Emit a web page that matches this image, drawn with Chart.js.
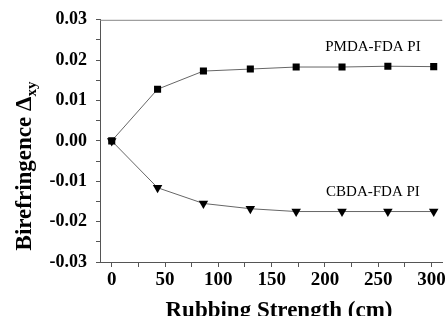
<!DOCTYPE html>
<html>
<head>
<meta charset="utf-8">
<script src="https://cdn.jsdelivr.net/npm/chart.js@4"></script>
<style>
  html, body { margin: 0; padding: 0; background: #fff; }
  #wrap { width: 448px; height: 316px; }
</style>
</head>
<body>
<div id="wrap"><canvas id="myChart" width="448" height="316"></canvas></div>
<script>
var rubbing = [0, 43, 86, 130, 173, 216, 259, 302];
var pmda = [0, 0.0128, 0.0173, 0.0178, 0.0183, 0.0183, 0.0185, 0.0184];
var cbda = [0, -0.0116, -0.0155, -0.0168, -0.0175, -0.0175, -0.0175, -0.0175];
var xTicks = [0, 25, 50, 75, 100, 125, 150, 175, 200, 225, 250, 275, 300];
var yTicks = [-0.03, -0.025, -0.02, -0.015, -0.01, -0.005, 0, 0.005, 0.01, 0.015, 0.02, 0.025, 0.03];
var seriesNames = ["PMDA-FDA PI", "CBDA-FDA PI"];

function pts(ys) {
  return rubbing.map(function (x, i) { return { x: x, y: ys[i] }; });
}

var serif = "'Liberation Serif', 'Times New Roman', serif";

var textPlugin = {
  id: 'textPlugin',
  afterDraw: function (chart) {
    var ctx = chart.ctx;
    var a = chart.chartArea;
    var xs = chart.scales.x, ys = chart.scales.y;
    ctx.save();
    // top frame line
    ctx.strokeStyle = '#888';
    ctx.lineWidth = 1;
    ctx.beginPath();
    ctx.moveTo(a.left, a.top + 0.5);
    ctx.lineTo(a.right, a.top + 0.5);
    ctx.stroke();

    // series labels
    ctx.fillStyle = '#000';
    ctx.font = '15px ' + serif;
    ctx.textAlign = 'center';
    ctx.textBaseline = 'alphabetic';
    ctx.fillText(seriesNames[0], xs.getPixelForValue(245), ys.getPixelForValue(0.0222));
    ctx.fillText(seriesNames[1], xs.getPixelForValue(245), ys.getPixelForValue(-0.0137));

    // x title
    ctx.font = 'bold 23px ' + serif;
    ctx.fillText('Rubbing Strength (cm)', 279, 317);

    // y title with subscript
    ctx.translate(31, 166);
    ctx.rotate(-Math.PI / 2);
    ctx.textAlign = 'left';
    var main = 'Birefringence \u0394';
    ctx.font = 'bold 23px ' + serif;
    var w1 = ctx.measureText(main).width;
    ctx.font = 'bold 15px ' + serif;
    var w2 = ctx.measureText('xy').width;
    var start = -(w1 + w2) / 2;
    ctx.font = 'bold 23px ' + serif;
    ctx.fillText(main, start, 0);
    ctx.font = 'bold 15px ' + serif;
    ctx.fillText('xy', start + w1, 5);
    ctx.restore();
  }
};

var chart = new Chart(document.getElementById('myChart').getContext('2d'), {
  type: 'scatter',
  data: {
    datasets: [{
      label: seriesNames[0],
      data: pts(pmda),
      showLine: true,
      borderColor: '#666',
      borderWidth: 1,
      pointStyle: 'rect',
      pointRadius: 5,
      pointBackgroundColor: '#000',
      pointBorderColor: '#000',
      pointBorderWidth: 0
    }, {
      label: seriesNames[1],
      data: pts(cbda),
      showLine: true,
      borderColor: '#666',
      borderWidth: 1,
      pointStyle: 'triangle',
      pointRotation: 180,
      pointRadius: 5.5,
      pointBackgroundColor: '#000',
      pointBorderColor: '#000',
      pointBorderWidth: 0
    }]
  },
  options: {
    responsive: false,
    animation: false,
    layout: { padding: { top: 19, right: 0, left: 0, bottom: 0 } },
    plugins: {
      legend: { display: false },
      tooltip: { enabled: false },
      title: { display: false }
    },
    scales: {
      x: {
        type: 'linear',
        min: -11,
        max: 310,
        afterBuildTicks: function (scale) {
          scale.ticks = xTicks.map(function (v) { return { value: v }; });
        },
        afterFit: function (scale) { scale.height = 54; },
        grid: { drawOnChartArea: false, drawTicks: true, tickLength: 5, color: '#555' },
        border: { display: true, color: '#555', width: 1 },
        ticks: {
          autoSkip: false,
          maxRotation: 0,
          padding: 2,
          color: '#000',
          font: { family: serif, size: 19, weight: 'bold' },
          callback: function (v) { return v % 50 === 0 ? v : ''; }
        }
      },
      y: {
        min: -0.03,
        max: 0.03,
        afterBuildTicks: function (scale) {
          scale.ticks = yTicks.map(function (v) { return { value: v }; });
        },
        afterFit: function (scale) { scale.width = 100; },
        grid: { drawOnChartArea: false, drawTicks: true, tickLength: 4, color: '#555' },
        border: { display: true, color: '#555', width: 1 },
        ticks: {
          autoSkip: false,
          padding: 9,
          color: '#000',
          font: { family: serif, size: 18, weight: 'bold' },
          callback: function (v) {
            var r = Math.round(v * 1000);
            return r % 10 === 0 ? (r / 1000).toFixed(2) : '';
          }
        }
      }
    }
  },
  plugins: [textPlugin]
});
</script>
</body>
</html>
